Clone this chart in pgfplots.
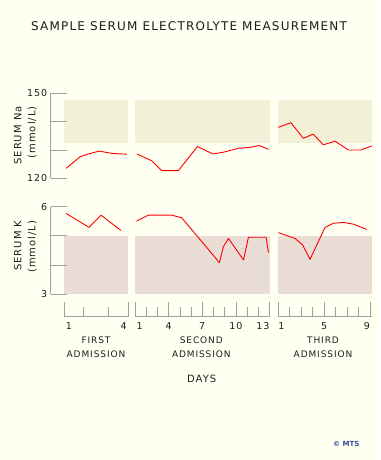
\documentclass[border=0pt]{standalone}
\usepackage{pgfplots}
\pgfplotsset{compat=1.18}
\usepackage{fontspec}
\setmainfont{DejaVu Sans}
\newfontfamily\spc[LetterSpace=10]{DejaVu Sans}
\definecolor{bgc}{HTML}{FFFFF2}
\definecolor{nafill}{HTML}{F2F0D6}
\definecolor{kfill}{HTML}{EADDD5}
\definecolor{axc}{HTML}{A0A0A0}
\definecolor{txt}{HTML}{1E1E1E}
\definecolor{mts}{HTML}{3B4FA0}
\pgfplotsset{
 panel/.style={scale only axis, anchor=south west, axis lines=none, ticks=none, clip=false},
 dat/.style={red, line width=0.9pt, no markers, line join=round},
 yax/.style={scale only axis, anchor=south west, width=16pt, xmin=0, xmax=1,
   axis y line=left, axis x line=none, tick align=inside, major tick length=16pt,
   axis line style={-, axc, line width=0.6pt}, tick style={axc, line width=0.6pt},
   /pgf/number format/assume math mode=true,
   yticklabel style={font=\spc\fontsize{9.5}{11}\selectfont, text=txt}},
 xax/.style={scale only axis, anchor=south west, height=15pt, ymin=0, ymax=1,
   axis x line=bottom, axis y line=none, tick align=inside,
   major tick length=15pt, minor tick length=10pt,
   axis line style={-, axc, line width=0.6pt}, tick style={axc, line width=0.6pt},
   /pgf/number format/assume math mode=true,
   xticklabel style={font=\spc\fontsize{9.5}{11}\selectfont, text=txt, yshift=-2pt}},
}
\begin{document}
\begin{tikzpicture}
\fill[bgc] (0,0) rectangle (380pt,460pt);
% ---------- Na panels ----------
\begin{axis}[panel, at={(64.3pt,281.7pt)}, width=64pt, height=85pt, xmin=1, xmax=4, ymin=120, ymax=150]
\addplot[draw=none, fill=nafill] coordinates {(1,132.3) (4,132.3) (4,147.6) (1,147.6)} -- cycle;
\addplot[dat] coordinates {(1.08,123.5) (1.74,127.6) (2.13,128.6) (2.64,129.6) (3.22,128.8) (3.93,128.5)};
\end{axis}
\begin{axis}[panel, at={(135pt,281.7pt)}, width=134.5pt, height=85pt, xmin=1, xmax=13, ymin=120, ymax=150]
\addplot[draw=none, fill=nafill] coordinates {(1,132.3) (13,132.3) (13,147.6) (1,147.6)} -- cycle;
\addplot[dat] coordinates {(1.15,128.6) (2.49,126.2) (3.39,122.7) (4.87,122.7) (6.57,131.2) (7.94,128.6) (8.89,129.2) (10.23,130.6) (11.28,130.9) (12.08,131.6) (12.91,130.2)};
\end{axis}
\begin{axis}[panel, at={(278.3pt,281.7pt)}, width=93.4pt, height=85pt, xmin=1, xmax=9.15, ymin=120, ymax=150]
\addplot[draw=none, fill=nafill] coordinates {(1,132.3) (9.15,132.3) (9.15,147.6) (1,147.6)} -- cycle;
\addplot[dat] coordinates {(1,138.0) (2.11,139.6) (3.18,134.1) (4.05,135.6) (4.93,131.8) (5.95,133.1) (7.11,130.0) (8.22,130.0) (9.15,131.4)};
\end{axis}
% ---------- K panels ----------
\begin{axis}[panel, at={(64.3pt,166pt)}, width=64pt, height=87.3pt, xmin=1, xmax=4, ymin=3, ymax=6]
\addplot[draw=none, fill=kfill] coordinates {(1,3) (4,3) (4,5) (1,5)} -- cycle;
\addplot[dat] coordinates {(1.08,5.77) (2.16,5.29) (2.72,5.71) (3.66,5.18)};
\end{axis}
\begin{axis}[panel, at={(135pt,166pt)}, width=134.5pt, height=87.3pt, xmin=1, xmax=13, ymin=3, ymax=6]
\addplot[draw=none, fill=kfill] coordinates {(1,3) (13,3) (13,5) (1,5)} -- cycle;
\addplot[dat] coordinates {(1.15,5.51) (2.19,5.71) (4.28,5.71) (5.17,5.62) (8.53,4.08) (8.89,4.63) (9.34,4.91) (10.68,4.17) (11.12,4.95) (12.7,4.95) (12.91,4.42)};
\end{axis}
\begin{axis}[panel, at={(278.3pt,166pt)}, width=93.4pt, height=87.3pt, xmin=1, xmax=9.15, ymin=3, ymax=6]
\addplot[draw=none, fill=kfill] coordinates {(1,3) (9.15,3) (9.15,5) (1,5)} -- cycle;
\addplot[dat] coordinates {(1,5.11) (2.46,4.91) (3.13,4.68) (3.77,4.19) (5.08,5.29) (5.81,5.43) (6.68,5.46) (7.55,5.40) (8.72,5.22)};
\end{axis}
% ---------- y axes ----------
\begin{axis}[yax, at={(50.7pt,281.7pt)}, height=85pt, ymin=120, ymax=150, ytick={120,130,140,150}, yticklabels={120,,,150}]
\end{axis}
\begin{axis}[yax, at={(50.7pt,166pt)}, height=87.3pt, ymin=3, ymax=6, ytick={3,4,5,6}, yticklabels={3,,,6}]
\end{axis}
% ---------- x axes ----------
\begin{axis}[xax, at={(64.3pt,143.3pt)}, width=64pt, xmin=1, xmax=4, xtick={1,4}, xticklabels={\rlap{\,1},\llap{4\,}}, minor xtick={1.9,3.06}]
\end{axis}
\begin{axis}[xax, at={(135pt,143.3pt)}, width=134.5pt, xmin=1, xmax=13, xtick={1,4,7,10,13}, xticklabels={\rlap{\,1},4,7,10,\llap{13}}, minor xtick={2,3,5,6,8,9,11,12}]
\end{axis}
\begin{axis}[xax, at={(278.3pt,143.3pt)}, width=93.4pt, xmin=1, xmax=9.15, xtick={1,5,9}, xticklabels={\rlap{1},5,\llap{9}}, minor xtick={2,3,4,6,7,8}]
\end{axis}
% ---------- texts ----------
\node[font=\spc\fontsize{12}{14}\selectfont, text=txt] at (189pt,433.7pt) {SAMPLE SERUM ELECTROLYTE MEASUREMENT};
\node[rotate=90, align=right, font=\spc\fontsize{10}{14}\selectfont, text=txt] at (25.3pt,324.5pt) {SERUM Na\\(mmol/L)};
\node[rotate=90, align=right, font=\spc\fontsize{10}{14}\selectfont, text=txt] at (25.3pt,213.3pt) {SERUM K\\(mmol/L)};
\node[align=center, font=\spc\fontsize{9}{13.3}\selectfont, text=txt] at (96pt,112.7pt) {FIRST\\ADMISSION};
\node[align=center, font=\spc\fontsize{9}{13.3}\selectfont, text=txt] at (201.3pt,112.7pt) {SECOND\\ADMISSION};
\node[align=center, font=\spc\fontsize{9}{13.3}\selectfont, text=txt] at (323pt,112.7pt) {THIRD\\ADMISSION};
\node[font=\spc\fontsize{10}{12}\selectfont, text=txt] at (201.7pt,80.7pt) {DAYS};
\node[font=\bfseries\fontsize{7}{8}\selectfont, text=mts] at (346.3pt,15.7pt) {© MTS};
\pgfresetboundingbox
\useasboundingbox (0,0) rectangle (380pt,460pt);
\end{tikzpicture}
\end{document}
